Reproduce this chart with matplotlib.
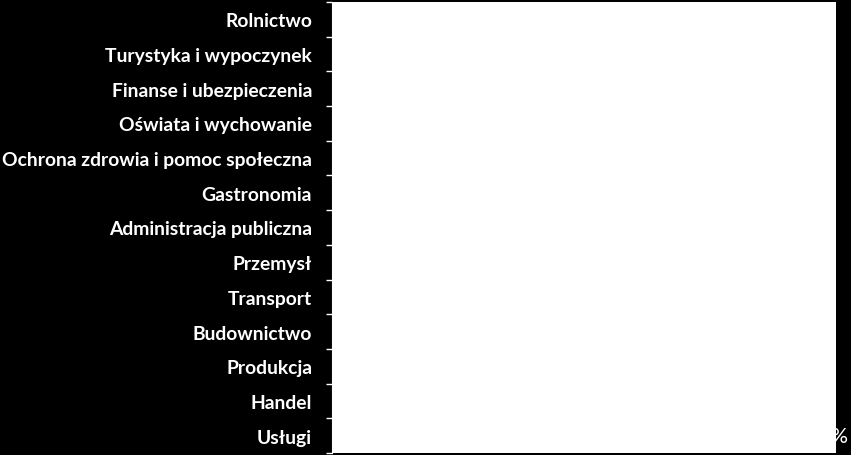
import matplotlib.pyplot as plt
from matplotlib.ticker import FixedLocator, PercentFormatter

# categories from top to bottom, as in the picture
categories = [
    "Rolnictwo",
    "Turystyka i wypoczynek",
    "Finanse i ubezpieczenia",
    "Oświata i wychowanie",
    "Ochrona zdrowia i pomoc społeczna",
    "Gastronomia",
    "Administracja publiczna",
    "Przemysł",
    "Transport",
    "Budownictwo",
    "Produkcja",
    "Handel",
    "Usługi",
]
# bars are white on a white plot area, so the values cannot be read; estimates
values = [0.02, 0.03, 0.03, 0.04, 0.04, 0.05, 0.05, 0.06, 0.07, 0.08, 0.10, 0.15, 0.25]
x_ticks = [0.0, 0.2, 0.4, 0.6, 0.8, 1.0]

plt.rcParams['font.family'] = ['Lato', 'DejaVu Sans']

fig = plt.figure(figsize=(8.51, 4.56), dpi=100, facecolor='black')
ax = fig.add_axes([332/851, 2/456, 504/851, 451/456])
ax.set_facecolor('white')

y = list(range(len(categories)))[::-1]
ax.barh(y, values, height=0.6, color='white')

ax.set_ylim(-0.5, len(categories) - 0.5)
ax.set_xlim(-0.04, 1.03)

ax.set_yticks(y)
ax.set_yticklabels(categories, color='white', fontsize=13.9, fontweight='bold')
ax.yaxis.set_minor_locator(FixedLocator([i - 0.5 for i in range(len(categories) + 1)]))
ax.tick_params(axis='y', which='major', length=0, pad=14.4)
ax.tick_params(axis='y', which='minor', length=4.5, width=1, color='white')

ax.set_xticks(x_ticks)
ax.xaxis.set_major_formatter(PercentFormatter(1.0, decimals=0))
ax.tick_params(axis='x', length=0, pad=-19.5, labelcolor='white', labelsize=15)

for s in ax.spines.values():
    s.set_visible(False)
ax.spines['left'].set_visible(True)
ax.spines['left'].set_color('white')

fig.savefig('out.png', dpi=100, facecolor='black')
